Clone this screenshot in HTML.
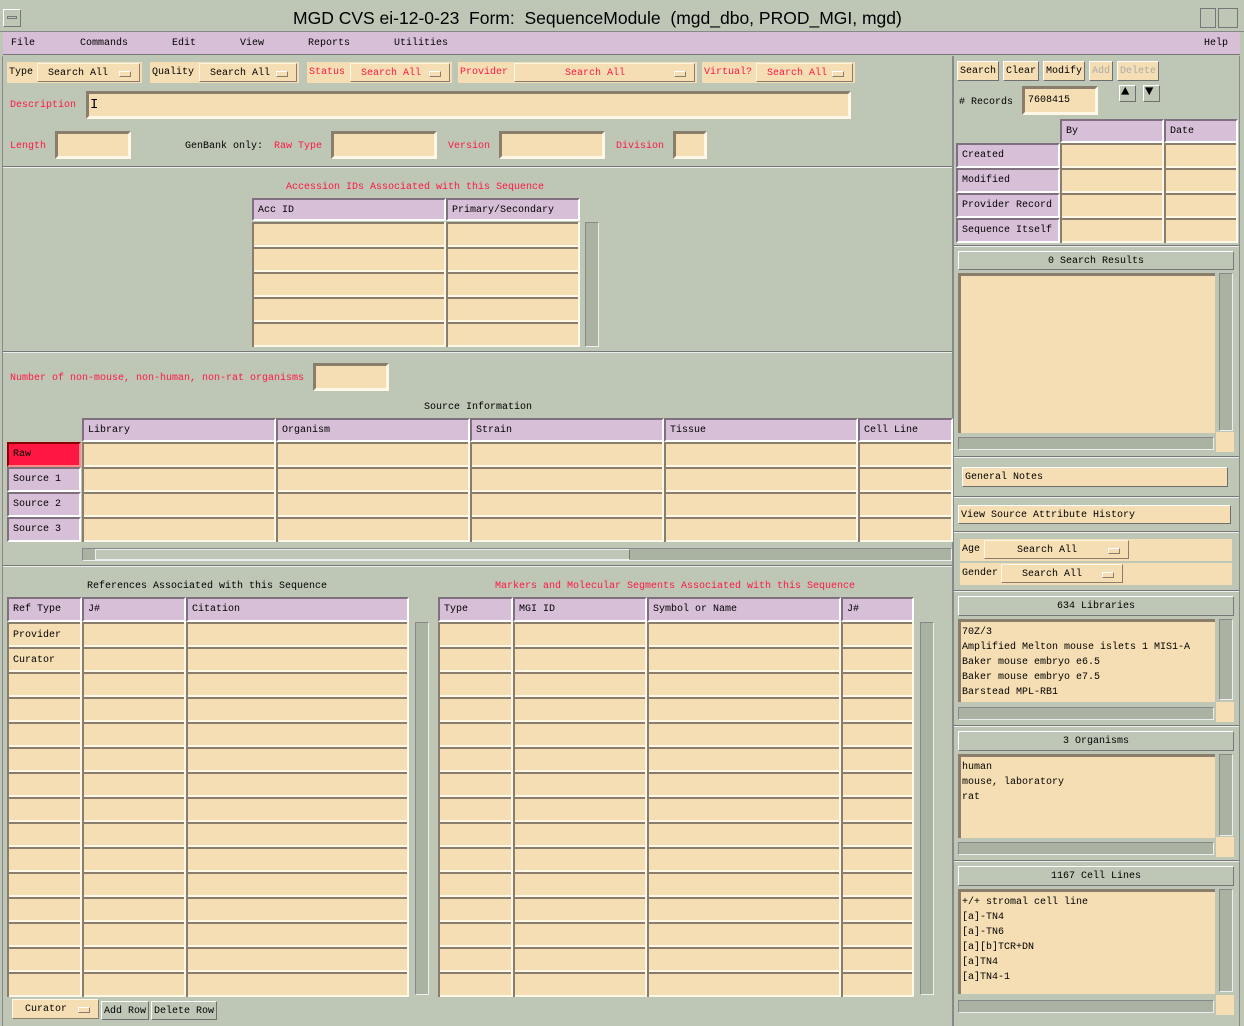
<!DOCTYPE html>
<html><head><meta charset="utf-8"><style>
*{box-sizing:border-box;margin:0;padding:0}
body{width:1244px;height:1026px;background:#bec6b6;position:relative;overflow:hidden;font-family:"Liberation Mono",monospace;font-size:10px;color:#000}
.a{position:absolute;white-space:nowrap;padding-top:2px}
.r{color:#ff1744}
.t{position:absolute;background:#f5deb3;border-top:2px solid #8b7d6b;border-left:2px solid #8b7d6b;border-bottom:2px solid #fff8e6;border-right:2px solid #fff8e6}
.h{position:absolute;background:#d8bfd8;border-top:2px solid #7f6f7f;border-left:2px solid #7f6f7f;border-bottom:2px solid #fff;border-right:2px solid #fff;padding:5px 4px 0;white-space:nowrap}
.c{position:absolute;border-left:2px solid #8b7d6b;border-right:2px solid #fff8e6;background:repeating-linear-gradient(to bottom,#8b7d6b 0 2px,#f5deb3 2px 23px,#fff8e6 23px 25px)}
.d{position:absolute;background:#f5deb3;border:1px solid #fff8e6;border-right-color:#8b7d6b;border-bottom-color:#8b7d6b;white-space:nowrap;padding:4px 10px 0}
.d:after{content:"";position:absolute;right:8px;top:7px;width:10px;height:4px;border:1px solid #fff;border-right-color:#8b7d6b;border-bottom-color:#8b7d6b}
.lb{position:absolute;background:#f5deb3;padding:5px 2px 0;white-space:nowrap}
.btn{position:absolute;border:1px solid #fff;border-right-color:#6e6e6e;border-bottom-color:#6e6e6e;padding:4px 2px 0;white-space:nowrap}
.sep{position:absolute;height:2px;border-top:1px solid #777;border-bottom:1px solid #eee}
.vs{position:absolute;background:#aab2a2;border:1px solid #888;border-right-color:#eee;border-bottom-color:#eee}
.bar{position:absolute;background:#bec6b6;border:1px solid #fff;border-right-color:#777;border-bottom-color:#777;text-align:center;padding-top:4px}
.lst{position:absolute;background:#f5deb3;border-top:3px solid #8b7d6b;border-left:3px solid #8b7d6b;padding:3px 1px;line-height:15px}
</style></head><body>
<div class="a" style="left:0;top:0;width:1244px;height:32px;border-bottom:1px solid #888"></div>
<div class="a" style="left:3px;top:9px;width:18px;height:18px;border:1px solid #fff;border-right-color:#777;border-bottom-color:#777"></div>
<div class="a" style="left:7px;top:16px;width:10px;height:3px;border:1px solid #777;padding:0"></div>
<div class="a" style="left:1200px;top:8px;width:16px;height:20px;border:1px solid #777"></div>
<div class="a" style="left:1218px;top:8px;width:20px;height:20px;border:1px solid #777"></div>
<div class="a" style="left:293px;top:6px;font-family:'Liberation Sans',sans-serif;font-size:17.5px">MGD CVS ei-12-0-23&nbsp; Form:&nbsp; SequenceModule&nbsp; (mgd_dbo, PROD_MGI, mgd)</div>
<div class="a" style="left:3px;top:32px;width:1237px;height:23px;background:#d8bfd8;border-bottom:1px solid #777"></div>
<div class="a" style="left:11px;top:36px">File</div><div class="a" style="left:80px;top:36px">Commands</div><div class="a" style="left:172px;top:36px">Edit</div><div class="a" style="left:240px;top:36px">View</div><div class="a" style="left:308px;top:36px">Reports</div><div class="a" style="left:394px;top:36px">Utilities</div><div class="a" style="left:1204px;top:36px">Help</div>
<div class="a" style="left:952px;top:56px;width:2px;height:970px;background:#888"></div>
<div class="a" style="left:1239px;top:56px;width:1px;height:970px;background:#888"></div>
<div class="a" style="left:2px;top:56px;width:1px;height:970px;background:#888"></div>
<div class="lb" style="left:7px;top:62px;width:135px;height:21px">Type</div><div class="d" style="left:37px;top:63px;width:103px;height:19px">Search All</div>
<div class="lb" style="left:150px;top:62px;width:149px;height:21px">Quality</div><div class="d" style="left:199px;top:63px;width:98px;height:19px">Search All</div>
<div class="lb r" style="left:307px;top:62px;width:145px;height:21px">Status</div><div class="d r" style="left:350px;top:63px;width:100px;height:19px">Search All</div>
<div class="lb r" style="left:458px;top:62px;width:239px;height:21px">Provider</div><div class="d r" style="left:514px;top:63px;width:181px;height:19px;padding-left:50px">Search All</div>
<div class="lb r" style="left:702px;top:62px;width:153px;height:21px">Virtual?</div><div class="d r" style="left:756px;top:63px;width:97px;height:19px">Search All</div>
<div class="a r" style="left:10px;top:98px">Description</div>
<div class="t" style="left:86px;top:91px;width:765px;height:28px;border-width:3px"></div><div class="a" style="left:90px;top:95px;font-size:14px">I</div>
<div class="a r" style="left:10px;top:139px">Length</div><div class="t" style="left:55px;top:131px;width:76px;height:28px;border-width:3px"></div>
<div class="a" style="left:185px;top:139px">GenBank only:</div><div class="a r" style="left:274px;top:139px">Raw Type</div><div class="t" style="left:331px;top:131px;width:106px;height:28px;border-width:3px"></div>
<div class="a r" style="left:448px;top:139px">Version</div><div class="t" style="left:499px;top:131px;width:106px;height:28px;border-width:3px"></div>
<div class="a r" style="left:616px;top:139px">Division</div><div class="t" style="left:673px;top:131px;width:34px;height:28px;border-width:3px"></div>
<div class="sep" style="left:3px;top:166px;width:949px"></div>
<div class="a r" style="left:286px;top:180px">Accession IDs Associated with this Sequence</div>
<div class="h" style="left:252px;top:198px;width:194px;height:23px">Acc ID</div><div class="h" style="left:446px;top:198px;width:134px;height:23px">Primary/Secondary</div>
<div class="c" style="left:252px;top:222px;width:194px;height:125px"></div><div class="c" style="left:446px;top:222px;width:134px;height:125px"></div>
<div class="vs" style="left:585px;top:222px;width:14px;height:125px"></div>
<div class="sep" style="left:3px;top:351px;width:949px"></div>
<div class="a r" style="left:10px;top:371px">Number of non-mouse, non-human, non-rat organisms</div>
<div class="t" style="left:313px;top:363px;width:76px;height:28px;border-width:3px"></div>
<div class="a" style="left:424px;top:400px">Source Information</div>
<div class="h" style="left:82px;top:418px;width:194px;height:24px">Library</div><div class="h" style="left:276px;top:418px;width:194px;height:24px">Organism</div><div class="h" style="left:470px;top:418px;width:194px;height:24px">Strain</div><div class="h" style="left:664px;top:418px;width:194px;height:24px">Tissue</div><div class="h" style="left:858px;top:418px;width:95px;height:24px">Cell Line</div>
<div class="h" style="left:7px;top:442px;width:74px;height:25px;background:#ff1744;border-color:#800 #f88 #f88 #800">Raw</div>
<div class="h" style="left:7px;top:467px;width:74px;height:25px">Source 1</div><div class="h" style="left:7px;top:492px;width:74px;height:25px">Source 2</div><div class="h" style="left:7px;top:517px;width:74px;height:25px">Source 3</div>
<div class="c" style="left:82px;top:442px;width:194px;height:100px"></div><div class="c" style="left:276px;top:442px;width:194px;height:100px"></div><div class="c" style="left:470px;top:442px;width:194px;height:100px"></div><div class="c" style="left:664px;top:442px;width:194px;height:100px"></div><div class="c" style="left:858px;top:442px;width:95px;height:100px"></div>
<div class="vs" style="left:82px;top:548px;width:870px;height:13px"></div><div class="a" style="left:95px;top:549px;width:535px;height:11px;background:#bec6b6;border:1px solid #eee;border-right-color:#777"></div>
<div class="sep" style="left:3px;top:565px;width:949px"></div>
<div class="a" style="left:87px;top:579px">References Associated with this Sequence</div>
<div class="a r" style="left:495px;top:579px">Markers and Molecular Segments Associated with this Sequence</div>
<div class="h" style="left:7px;top:597px;width:75px;height:25px">Ref Type</div><div class="h" style="left:82px;top:597px;width:104px;height:25px">J#</div><div class="h" style="left:186px;top:597px;width:223px;height:25px">Citation</div>
<div class="c" style="left:7px;top:622px;width:75px;height:375px"></div><div class="c" style="left:82px;top:622px;width:104px;height:375px"></div><div class="c" style="left:186px;top:622px;width:223px;height:375px"></div>
<div class="a" style="left:13px;top:628px">Provider</div><div class="a" style="left:13px;top:653px">Curator</div>
<div class="vs" style="left:415px;top:622px;width:14px;height:373px"></div>
<div class="h" style="left:438px;top:597px;width:75px;height:25px">Type</div><div class="h" style="left:513px;top:597px;width:134px;height:25px">MGI ID</div><div class="h" style="left:647px;top:597px;width:194px;height:25px">Symbol or Name</div><div class="h" style="left:841px;top:597px;width:73px;height:25px">J#</div>
<div class="c" style="left:438px;top:622px;width:75px;height:375px"></div><div class="c" style="left:513px;top:622px;width:134px;height:375px"></div><div class="c" style="left:647px;top:622px;width:194px;height:375px"></div><div class="c" style="left:841px;top:622px;width:73px;height:375px"></div>
<div class="vs" style="left:920px;top:622px;width:14px;height:373px"></div>
<div class="d" style="left:12px;top:999px;width:87px;height:20px;padding-left:12px">Curator</div>
<div class="btn" style="left:101px;top:1001px;width:48px;height:19px">Add Row</div><div class="btn" style="left:151px;top:1001px;width:66px;height:19px">Delete Row</div>
<div class="btn" style="left:957px;top:61px;height:20px;background:#f5deb3">Search</div><div class="btn" style="left:1003px;top:61px;height:20px;background:#f5deb3">Clear</div><div class="btn" style="left:1043px;top:61px;height:20px;background:#f5deb3">Modify</div><div class="btn" style="left:1089px;top:61px;height:20px;background:#f5deb3;color:#aaa">Add</div><div class="btn" style="left:1117px;top:61px;height:20px;background:#f5deb3;color:#aaa">Delete</div>
<div class="a" style="left:959px;top:95px"># Records</div><div class="t" style="left:1022px;top:86px;width:76px;height:29px;border-width:3px;padding:6px 3px 0">7608415</div>
<div class="btn" style="left:1119px;top:85px;width:17px;height:17px;font-size:14px;line-height:12px;padding:0 1px">▲</div><div class="btn" style="left:1143px;top:85px;width:17px;height:17px;font-size:14px;line-height:12px;padding:0 1px">▼</div>
<div class="h" style="left:1060px;top:119px;width:104px;height:24px">By</div><div class="h" style="left:1164px;top:119px;width:74px;height:24px">Date</div>
<div class="h" style="left:956px;top:143px;width:104px;height:25px">Created</div><div class="h" style="left:956px;top:168px;width:104px;height:25px">Modified</div><div class="h" style="left:956px;top:193px;width:104px;height:25px">Provider Record</div><div class="h" style="left:956px;top:218px;width:104px;height:25px">Sequence Itself</div>
<div class="c" style="left:1060px;top:143px;width:104px;height:100px"></div><div class="c" style="left:1164px;top:143px;width:74px;height:100px"></div>
<div class="sep" style="left:954px;top:245px;width:285px"></div>
<div class="bar" style="left:958px;top:251px;width:276px;height:19px">0 Search Results</div>
<div class="lst" style="left:958px;top:273px;width:257px;height:160px"></div><div class="vs" style="left:1219px;top:273px;width:14px;height:158px"></div><div class="vs" style="left:958px;top:437px;width:256px;height:13px"></div><div class="a" style="left:1216px;top:432px;width:18px;height:20px;background:#f5deb3"></div>
<div class="sep" style="left:954px;top:456px;width:285px"></div>
<div class="btn" style="left:962px;top:467px;width:266px;height:20px;background:#f5deb3">General Notes</div>
<div class="sep" style="left:954px;top:496px;width:285px"></div>
<div class="btn" style="left:958px;top:505px;width:273px;height:19px;background:#f5deb3">View Source Attribute History</div>
<div class="sep" style="left:954px;top:531px;width:285px"></div>
<div class="lb" style="left:960px;top:539px;width:272px;height:22px">Age</div><div class="d" style="left:984px;top:540px;width:145px;height:19px;padding-left:32px">Search All</div>
<div class="lb" style="left:960px;top:563px;width:272px;height:22px">Gender</div><div class="d" style="left:1001px;top:564px;width:122px;height:19px;padding-left:20px">Search All</div>
<div class="sep" style="left:954px;top:590px;width:285px"></div>
<div class="bar" style="left:958px;top:596px;width:276px;height:20px">634 Libraries</div>
<div class="lst" style="left:958px;top:619px;width:257px;height:83px">70Z/3<br>Amplified Melton mouse islets 1 MIS1-A<br>Baker mouse embryo e6.5<br>Baker mouse embryo e7.5<br>Barstead MPL-RB1</div>
<div class="vs" style="left:1219px;top:619px;width:14px;height:81px"></div><div class="vs" style="left:958px;top:707px;width:256px;height:13px"></div><div class="a" style="left:1216px;top:702px;width:18px;height:20px;background:#f5deb3"></div>
<div class="sep" style="left:954px;top:725px;width:285px"></div>
<div class="bar" style="left:958px;top:731px;width:276px;height:20px">3 Organisms</div>
<div class="lst" style="left:958px;top:754px;width:257px;height:84px">human<br>mouse, laboratory<br>rat</div>
<div class="vs" style="left:1219px;top:754px;width:14px;height:82px"></div><div class="vs" style="left:958px;top:842px;width:256px;height:13px"></div><div class="a" style="left:1216px;top:837px;width:18px;height:20px;background:#f5deb3"></div>
<div class="sep" style="left:954px;top:860px;width:285px"></div>
<div class="bar" style="left:958px;top:866px;width:276px;height:20px">1167 Cell Lines</div>
<div class="lst" style="left:958px;top:889px;width:257px;height:105px">+/+ stromal cell line<br>[a]-TN4<br>[a]-TN6<br>[a][b]TCR+DN<br>[a]TN4<br>[a]TN4-1</div>
<div class="vs" style="left:1219px;top:889px;width:14px;height:103px"></div><div class="vs" style="left:958px;top:1000px;width:256px;height:13px"></div><div class="a" style="left:1216px;top:995px;width:18px;height:20px;background:#f5deb3"></div>
</body></html>
